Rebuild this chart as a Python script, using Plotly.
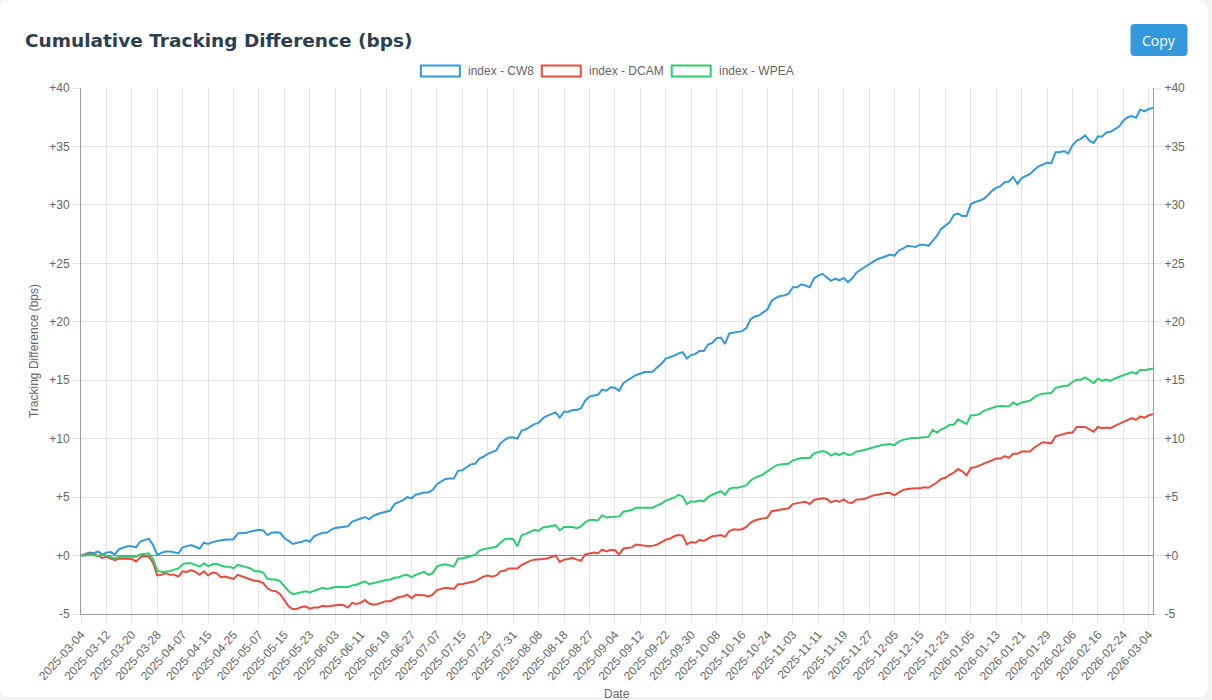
import pandas as pd
import plotly.graph_objects as go

# ---------------- data ----------------
HOLIDAYS = ["2025-04-18", "2025-04-21", "2025-05-01", "2025-05-05", "2025-05-26",
            "2025-08-25", "2025-12-25", "2025-12-26", "2026-01-01"]
bdays = pd.bdate_range("2025-03-04", "2026-03-05")
dates = [d.strftime("%Y-%m-%d") for d in bdays if d.strftime("%Y-%m-%d") not in HOLIDAYS]

cw8 = [
    0.0, 0.1, 0.25, 0.2, 0.35, 0.1,
    0.25, 0.3, 0.1, 0.55, 0.65, 0.8,
    0.8, 0.7, 1.2, 1.35, 1.45, 0.9,
    0.05, 0.25, 0.35, 0.35, 0.3, 0.2,
    0.7, 0.8, 0.9, 0.75, 0.6, 1.1,
    1.0, 1.15, 1.25, 1.3, 1.35, 1.35,
    1.4, 1.9, 1.9, 1.95, 2.05, 2.1,
    2.2, 2.15, 1.75, 1.95, 2.0, 1.95,
    1.5, 1.25, 1.0, 1.1, 1.15, 1.3,
    1.2, 1.65, 1.8, 1.95, 1.95, 2.2,
    2.35, 2.4, 2.45, 2.5, 2.9, 3.05,
    3.15, 3.3, 3.1, 3.4, 3.55, 3.65,
    3.8, 3.85, 4.4, 4.55, 4.75, 5.0,
    4.9, 5.2, 5.3, 5.4, 5.4, 5.6,
    6.1, 6.3, 6.55, 6.6, 6.6, 7.25,
    7.3, 7.55, 7.8, 7.85, 8.3, 8.45,
    8.7, 8.85, 9.0, 9.6, 9.9, 10.1,
    10.1, 10.0, 10.7, 10.8, 11.05, 11.25,
    11.35, 11.75, 11.95, 12.1, 12.25, 11.8,
    12.3, 12.3, 12.45, 12.45, 12.6, 13.25,
    13.6, 13.7, 13.75, 14.2, 14.1, 14.4,
    14.35, 14.1, 14.75, 15.0, 15.2, 15.45,
    15.55, 15.7, 15.7, 15.75, 16.1, 16.4,
    16.85, 16.95, 17.1, 17.3, 17.4, 16.85,
    17.15, 17.25, 17.5, 17.5, 18.05, 18.2,
    18.6, 18.65, 18.1, 19.0, 19.05, 19.15,
    19.2, 19.45, 20.2, 20.45, 20.55, 20.8,
    21.05, 21.8, 22.05, 22.2, 22.25, 22.4,
    22.95, 22.95, 23.2, 23.1, 22.95, 23.7,
    23.95, 24.1, 23.8, 23.5, 23.7, 23.55,
    23.75, 23.4, 23.7, 24.2, 24.45, 24.7,
    24.95, 25.15, 25.35, 25.5, 25.65, 25.75,
    25.65, 26.1, 26.25, 26.5, 26.45, 26.4,
    26.6, 26.6, 26.5, 26.95, 27.35, 27.95,
    28.2, 28.5, 29.15, 29.25, 29.05, 29.05,
    30.05, 30.25, 30.35, 30.5, 30.8, 31.2,
    31.45, 31.6, 31.95, 32.0, 32.4, 31.8,
    32.3, 32.45, 32.65, 33.0, 33.3, 33.45,
    33.6, 33.55, 34.5, 34.5, 34.6, 34.4,
    35.1, 35.5, 35.65, 35.95, 35.5, 35.3,
    35.85, 35.85, 36.2, 36.25, 36.5, 36.7,
    37.2, 37.5, 37.6, 37.45, 38.15, 38.0,
    38.2, 38.3,
]

dcam = [
    0.0, 0.05, 0.2, 0.1, 0.0, -0.2,
    -0.1, -0.25, -0.4, -0.25, -0.25, -0.25,
    -0.3, -0.5, -0.15, -0.05, -0.1, -0.6,
    -1.7, -1.65, -1.5, -1.65, -1.65, -1.8,
    -1.35, -1.4, -1.25, -1.4, -1.65, -1.35,
    -1.7, -1.45, -1.5, -1.85, -1.8, -1.9,
    -2.0, -1.65, -1.8, -1.95, -2.05, -2.15,
    -2.2, -2.35, -2.8, -3.0, -3.05, -3.3,
    -3.85, -4.35, -4.6, -4.55, -4.4, -4.35,
    -4.55, -4.45, -4.45, -4.3, -4.35, -4.3,
    -4.2, -4.2, -4.25, -4.45, -4.05, -4.15,
    -4.05, -3.8, -4.1, -4.2, -4.15, -4.05,
    -3.9, -3.9, -3.75, -3.55, -3.5, -3.35,
    -3.65, -3.35, -3.4, -3.4, -3.5, -3.35,
    -2.95, -2.85, -2.75, -2.8, -2.85, -2.45,
    -2.45, -2.35, -2.25, -2.2, -2.0, -1.8,
    -1.7, -1.8, -1.7, -1.35, -1.3, -1.1,
    -1.1, -1.1, -0.8, -0.6, -0.45, -0.35,
    -0.35, -0.3, -0.25, -0.15, 0.0, -0.55,
    -0.35, -0.3, -0.2, -0.35, -0.45, 0.1,
    0.2, 0.25, 0.2, 0.5, 0.35, 0.5,
    0.45, 0.1, 0.6, 0.65, 0.7, 0.95,
    0.9, 0.8, 0.8, 0.85, 0.95, 1.15,
    1.35, 1.45, 1.65, 1.75, 1.7, 0.95,
    1.15, 1.1, 1.35, 1.25, 1.45, 1.65,
    1.7, 1.75, 1.6, 2.1, 2.25, 2.2,
    2.25, 2.45, 2.8, 3.0, 3.1, 3.2,
    3.25, 3.8, 3.85, 3.95, 3.95, 4.05,
    4.4, 4.5, 4.55, 4.6, 4.4, 4.75,
    4.85, 4.9, 4.85, 4.55, 4.7, 4.6,
    4.8, 4.55, 4.5, 4.8, 4.8, 4.85,
    5.0, 5.15, 5.2, 5.3, 5.35, 5.35,
    5.15, 5.4, 5.6, 5.7, 5.75, 5.75,
    5.75, 5.85, 5.8, 6.0, 6.25, 6.55,
    6.65, 6.9, 7.1, 7.4, 7.2, 6.85,
    7.5, 7.55, 7.7, 7.85, 8.05, 8.2,
    8.3, 8.3, 8.5, 8.35, 8.7, 8.7,
    8.9, 8.9, 8.9, 9.25, 9.5, 9.7,
    9.65, 9.6, 10.2, 10.3, 10.4, 10.5,
    10.5, 11.0, 11.0, 11.0, 10.8, 10.6,
    11.0, 10.9, 10.95, 10.9, 11.1, 11.25,
    11.45, 11.6, 11.75, 11.6, 11.9, 11.8,
    12.0, 12.1,
]

wpea = [
    0.0, 0.0, 0.1, 0.05, -0.05, 0.1,
    0.0, -0.1, -0.25, -0.1, -0.1, -0.1,
    -0.15, -0.1, 0.1, 0.15, 0.2, -0.3,
    -1.3, -1.4, -1.4, -1.35, -1.2, -1.1,
    -0.75, -0.65, -0.65, -0.8, -0.95, -0.65,
    -0.9, -0.75, -0.7, -0.85, -0.95, -0.95,
    -1.1, -0.8, -0.9, -0.95, -1.1, -1.35,
    -1.35, -1.45, -2.0, -2.05, -2.05, -2.2,
    -2.65, -3.05, -3.3, -3.2, -3.1, -3.05,
    -3.15, -3.0, -2.9, -2.75, -2.85, -2.75,
    -2.7, -2.7, -2.7, -2.7, -2.55, -2.5,
    -2.35, -2.2, -2.45, -2.35, -2.3, -2.2,
    -2.1, -2.05, -1.9, -1.85, -1.7, -1.65,
    -1.85, -1.65, -1.5, -1.4, -1.65, -1.5,
    -0.95, -0.8, -0.75, -0.85, -0.95, -0.25,
    -0.25, -0.15, -0.05, 0.05, 0.4, 0.55,
    0.6, 0.7, 0.75, 1.1, 1.4, 1.45,
    1.4, 0.8, 1.75, 1.85, 2.0, 2.2,
    2.1, 2.4, 2.45, 2.5, 2.6, 2.15,
    2.45, 2.45, 2.45, 2.35, 2.5, 2.85,
    3.05, 3.05, 3.0, 3.45, 3.25, 3.3,
    3.35, 3.35, 3.75, 3.8, 3.9, 4.1,
    4.1, 4.05, 4.1, 4.1, 4.3, 4.45,
    4.7, 4.85, 4.95, 5.2, 5.05, 4.4,
    4.65, 4.6, 4.7, 4.65, 5.0, 5.2,
    5.35, 5.5, 5.2, 5.7, 5.8, 5.8,
    5.9, 6.0, 6.4, 6.65, 6.8, 6.95,
    7.2, 7.45, 7.7, 7.8, 7.8, 7.85,
    8.15, 8.25, 8.35, 8.35, 8.35, 8.75,
    8.85, 8.95, 8.85, 8.55, 8.75, 8.6,
    8.8, 8.6, 8.65, 8.9, 8.95, 9.05,
    9.2, 9.3, 9.4, 9.45, 9.5, 9.55,
    9.45, 9.75, 9.9, 10.0, 10.05, 10.05,
    10.1, 10.1, 10.15, 10.75, 10.5, 10.8,
    10.95, 11.2, 11.2, 11.65, 11.45, 11.25,
    12.0, 12.0, 12.1, 12.35, 12.5, 12.65,
    12.75, 12.8, 12.8, 12.75, 13.1, 12.9,
    13.1, 13.15, 13.25, 13.55, 13.75, 13.85,
    13.9, 13.9, 14.35, 14.45, 14.5, 14.55,
    14.85, 15.05, 15.05, 15.25, 15.0, 14.75,
    15.15, 14.95, 15.05, 14.95, 15.15, 15.3,
    15.45, 15.55, 15.7, 15.55, 15.9, 15.85,
    15.95, 16.0,
]

series_names = ["index - CW8", "index - DCAM", "index - WPEA"]
series_values = [cw8, dcam, wpea]
series_colors = ["#3498db", "#e74c3c", "#2ecc71"]

y_ticks = [-5, 0, 5, 10, 15, 20, 25, 30, 35, 40]
y_ticktext = [("+%d" % v) if v >= 0 else str(v) for v in y_ticks]
x_ticks = dates[::6]

# ---------------- layout geometry (pixels) ----------------
W, H = 1212, 700
L, R, T, B = 81, 1153.5, 88, 614


def px(x):
    return (x - L) / (R - L)


def py(y):
    return (B - y) / (B - T)


def rrect(x0, y0, x1, y1, r):
    rx = r / (R - L)
    ry = r / (B - T)
    a, b, c, d = px(x0), px(x1), py(y0), py(y1)
    return (f"M {a+rx},{c} L {b-rx},{c} Q {b},{c} {b},{c-ry} "
            f"L {b},{d+ry} Q {b},{d} {b-rx},{d} L {a+rx},{d} "
            f"Q {a},{d} {a},{d+ry} L {a},{c-ry} Q {a},{c} {a+rx},{c} Z")


fig = go.Figure()
for name, vals, col in zip(series_names, series_values, series_colors):
    fig.add_trace(go.Scatter(
        x=dates[:len(vals)], y=vals, name=name, mode="lines",
        line=dict(color=col, width=2), showlegend=False,
    ))
# invisible trace so the right-hand axis is drawn
fig.add_trace(go.Scatter(x=dates[:len(cw8)], y=cw8, yaxis="y2", mode="lines",
                         line=dict(width=0), opacity=0, hoverinfo="skip",
                         showlegend=False))

grid = "rgba(0,0,0,0.1)"
axis_line = "#9a9a9a"
tick_font = dict(family="Liberation Sans, Arial, sans-serif", size=12, color="#666")

fig.update_layout(
    width=W, height=H,
    margin=dict(l=L, r=W - R, t=T, b=H - B, pad=0),
    paper_bgcolor="#f2f3f5",
    plot_bgcolor="white",
    showlegend=False,
    xaxis=dict(
        type="category", range=[0, len(dates) - 1],
        tickmode="array", tickvals=x_ticks, ticktext=x_ticks,
        tickangle=-48, tickfont=tick_font,
        showgrid=True, gridcolor=grid, gridwidth=1,
        ticks="outside", ticklen=8, tickcolor=grid,
        showline=True, linecolor=axis_line, linewidth=1,
        zeroline=False, fixedrange=True,
    ),
    yaxis=dict(
        range=[-5, 40], tickmode="array", tickvals=y_ticks, ticktext=y_ticktext,
        tickfont=tick_font, showgrid=True, gridcolor=grid, gridwidth=1,
        ticks="outside", ticklen=8, tickcolor=grid,
        showline=True, linecolor=axis_line, linewidth=1,
        zeroline=True, zerolinecolor="#8a8a8a", zerolinewidth=1,
    ),
    yaxis2=dict(
        range=[-5, 40], overlaying="y", side="right",
        tickmode="array", tickvals=y_ticks, ticktext=y_ticktext,
        tickfont=tick_font, showgrid=False,
        ticks="outside", ticklen=8, tickcolor=grid,
        showline=True, linecolor=axis_line, linewidth=1, zeroline=False,
    ),
)

shapes = [
    dict(type="path", xref="paper", yref="paper", path=rrect(0, 0, 1208, 697, 10),
         fillcolor="white", line=dict(width=0), layer="below"),
    dict(type="path", xref="paper", yref="paper", path=rrect(1131, 24, 1188, 56, 4),
         fillcolor="#3498db", line=dict(width=0), layer="above"),
]
annotations = [
    dict(text="<b>Cumulative Tracking Difference (bps)</b>", x=px(23), y=py(40),
         xref="paper", yref="paper", xanchor="left", yanchor="middle", showarrow=False,
         font=dict(family="DejaVu Sans, sans-serif", size=18.5, color="#2c3e50")),
    dict(text="Copy", x=px(1159.5), y=py(40), xref="paper", yref="paper",
         xanchor="center", yanchor="middle", showarrow=False,
         font=dict(family="Open Sans, sans-serif", size=14, color="white")),
    dict(text="Tracking Difference (bps)", x=px(34), y=py(351), xref="paper", yref="paper",
         xanchor="center", yanchor="middle", textangle=-90, showarrow=False,
         font=tick_font),
    dict(text="Date", x=px(617), y=py(694), xref="paper", yref="paper",
         xanchor="center", yanchor="middle", showarrow=False, font=tick_font),
]

# legend (Chart.js style outlined boxes)
legend_box_x = [420, 541, 671]
for name, col, bx in zip(series_names, series_colors, legend_box_x):
    shapes.append(dict(type="rect", xref="paper", yref="paper",
                       x0=px(bx + 1), x1=px(bx + 40), y0=py(65.5), y1=py(76.5),
                       fillcolor="white", line=dict(color=col, width=2), layer="above"))
    annotations.append(dict(text=name, x=px(bx + 46), y=py(71), xref="paper", yref="paper",
                            xanchor="left", yanchor="middle", showarrow=False,
                            font=tick_font))

fig.update_layout(shapes=shapes, annotations=annotations)
fig.write_html("out.html", config={"displayModeBar": False})

# remove the default page margin so the figure sits at the window's top-left corner
with open("out.html", "r", encoding="utf-8") as fh:
    page = fh.read()
page = page.replace("<head>", "<head><style>html,body{margin:0;padding:0;overflow:hidden;}</style>", 1)
with open("out.html", "w", encoding="utf-8") as fh:
    fh.write(page)
